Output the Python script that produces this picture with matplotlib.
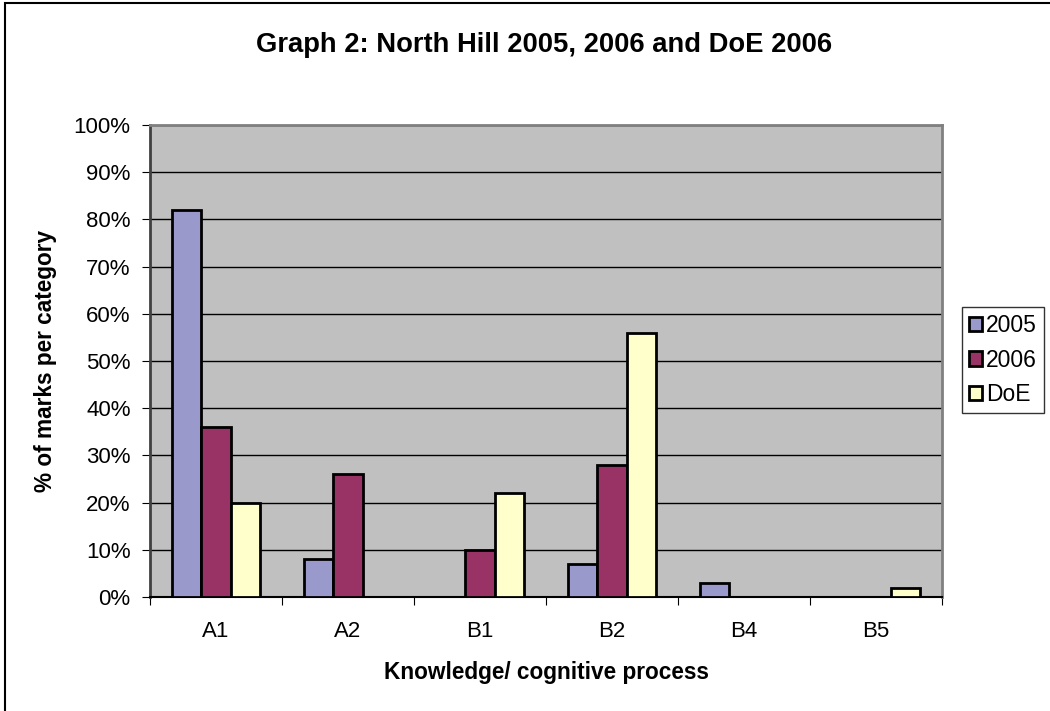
import matplotlib.pyplot as plt
import numpy as np
from matplotlib.patches import Rectangle

plt.rcParams['font.family'] = ['Liberation Sans', 'DejaVu Sans']

# Datos
categorias = ['A1', 'A2', 'B1', 'B2', 'B4', 'B5']
serie_2005 = [82, 8, 0, 7, 3, 0]
serie_2006 = [36, 26, 10, 28, 0, 0]
serie_doe = [20, 0, 22, 56, 0, 2]
nombres = ['2005', '2006', 'DoE']
colores = ['#9999CC', '#993366', '#FFFFCC']

fig = plt.figure(figsize=(10.5, 7.11), dpi=100)
ax = fig.add_axes([150 / 1050, 114 / 711, 792 / 1050, 472 / 711])
ax.set_facecolor('#C0C0C0')

x = np.arange(len(categorias))
ancho = 1 / 4.5
for i, (vals, nom, col) in enumerate(zip([serie_2005, serie_2006, serie_doe], nombres, colores)):
    ax.bar(x + (i - 1) * ancho, vals, width=ancho, color=col, edgecolor='black',
           linewidth=2, label=nom, zorder=3)

ax.set_xlim(-0.5, len(categorias) - 0.5)
ax.set_ylim(0, 100)
ax.set_yticks(np.arange(0, 101, 10))
ax.set_yticklabels([f'{v}%' for v in range(0, 101, 10)], fontsize=16)
ax.yaxis.grid(True, color='black', linewidth=1, zorder=0)

# Marcas del eje x entre categorias
ax.set_xticks(np.arange(-0.5, len(categorias), 1))
ax.set_xticklabels([])
ax.set_xticks(x, minor=True)
ax.set_xticklabels(categorias, minor=True, fontsize=16)
ax.tick_params(axis='x', which='minor', length=0, pad=17)
ax.tick_params(axis='x', which='major', length=6, color='black')
ax.tick_params(axis='y', length=6, color='black', pad=8)

for lado in ['top', 'right']:
    ax.spines[lado].set_color('#808080')
    ax.spines[lado].set_linewidth(2)
ax.spines['left'].set_color('#404040')
ax.spines['left'].set_linewidth(2)
ax.spines['bottom'].set_color('black')
ax.spines['bottom'].set_linewidth(1.5)

ax.set_xlabel('Knowledge/ cognitive process', fontsize=16.3, fontweight='bold', labelpad=14)
ax.set_ylabel('% of marks per category', fontsize=16.3, fontweight='bold', labelpad=12)
fig.text(544 / 1050, 1 - 45 / 711, 'Graph 2: North Hill 2005, 2006 and DoE 2006',
         ha='center', va='center', fontsize=19.7, fontweight='bold')

leg = ax.legend(loc='center left', bbox_to_anchor=(1.025, 0.502), frameon=True, fancybox=False,
                fontsize=16.5, handlelength=0.6, handleheight=0.6, handletextpad=0.15,
                borderpad=0.3, labelspacing=0.5, borderaxespad=0)
leg.get_frame().set_edgecolor('black')
leg.get_frame().set_linewidth(1)

# Borde de la figura
fig.patches.append(Rectangle((5 / 1050, -0.1), 1.2, 1.1 - 3 / 711, transform=fig.transFigure,
                             fill=False, edgecolor='black', linewidth=1.5))

plt.savefig('out.png', dpi=100)
